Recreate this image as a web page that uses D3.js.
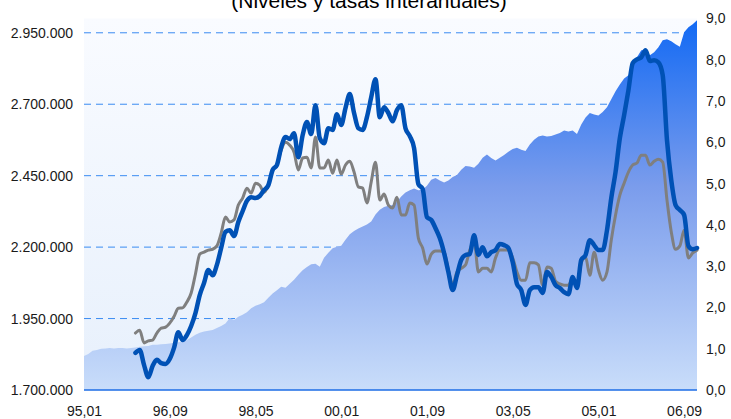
<!DOCTYPE html>
<html><head><meta charset="utf-8">
<script src="https://cdn.jsdelivr.net/npm/d3@7"></script>
<style>
html,body{margin:0;padding:0;background:#fff;}
svg{display:block;}
text{font-family:"Liberation Sans",Arial,sans-serif;}
</style></head>
<body><svg id="c" width="731" height="419"></svg>
<script>
// ---- data ----
const title = "(Niveles y tasas interanuales)";
const startYear = 1995, nMonths = 144;            // 95,01 ... 06,12
const months = [];
for (let k = 0; k < nMonths; k++) {
  const y = startYear + Math.floor(k / 12), m = k % 12 + 1;
  months.push(String(y).slice(2) + "," + String(m).padStart(2, "0"));
}
const xTickLabels = ["95,01","96,09","98,05","00,01","01,09","03,05","05,01","06,09"];
const leftTicks = [1700, 1950, 2200, 2450, 2700, 2950];   // miles
const rightTicks = [0,1,2,3,4,5,6,7,8,9];

// Niveles (miles) — área, eje izquierdo
const levels = [
1819,1826,1837,1840,1844,1845,1847,1845,1847,1847,1845,1847,
1849,1851,1853,1854,1858,1858,1860,1861,1863,1865,1867,1870,
1875,1884,1893,1900,1905,1907,1910,1917,1924,1933,1952,1945,
1956,1963,1972,1986,1995,2000,2007,2023,2038,2049,2061,2058,
2072,2086,2103,2119,2130,2140,2142,2131,2163,2180,2196,2201,
2205,2226,2245,2256,2265,2272,2279,2290,2314,2331,2340,2345,
2347,2359,2377,2391,2399,2405,2399,2401,2415,2436,2442,2433,
2426,2433,2445,2452,2471,2484,2482,2478,2492,2513,2524,2512,
2503,2513,2522,2534,2543,2548,2541,2536,2559,2576,2587,2591,
2587,2589,2594,2599,2608,2605,2608,2596,2629,2654,2669,2664,
2661,2673,2689,2717,2745,2769,2790,2801,2832,2864,2889,2889,
2871,2882,2899,2924,2927,2920,2910,2901,2952,2969,2980,2994];

// Tasas interanuales (%) — eje derecho, desde 96,01
const ratesStart = 12;
const rateBlue = [
0.90,0.97,0.61,0.31,0.58,0.73,0.65,0.63,0.75,1.02,1.40,1.21,
1.33,1.55,1.86,2.30,2.59,2.91,2.78,3.03,3.44,3.83,3.87,3.73,
4.07,4.33,4.58,4.67,4.65,4.70,4.84,4.96,5.33,5.45,5.88,6.13,
6.08,6.22,5.64,6.17,6.49,6.20,6.90,6.10,5.98,6.34,6.30,6.68,
6.42,6.83,7.17,6.71,6.34,6.30,6.61,7.09,7.53,6.61,6.85,6.71,
6.51,6.78,6.90,6.34,6.15,5.86,4.99,4.87,4.19,4.12,3.92,3.68,
3.32,2.86,2.42,2.78,3.15,3.27,3.29,3.75,3.27,3.46,3.24,3.34,
3.39,3.54,3.51,3.44,3.10,2.57,2.42,2.06,2.42,2.49,2.49,2.35,
2.86,2.74,2.54,2.47,2.37,2.32,2.74,2.47,3.15,3.27,3.63,3.51,
3.39,3.39,3.87,4.65,5.28,6.10,6.66,7.26,7.92,8.01,8.06,8.23,
7.97,7.99,7.94,7.63,6.05,5.08,4.48,4.36,4.24,3.49,3.41,3.44];
const rateGray = [
1.38,1.45,1.14,1.19,1.21,1.38,1.50,1.52,1.62,1.78,1.98,1.99,
2.13,2.35,2.81,3.29,3.34,3.39,3.41,3.49,3.80,4.19,4.07,4.12,
4.48,4.65,4.89,4.77,5.01,4.96,4.79,4.96,5.33,5.45,5.81,6.00,
5.93,5.76,5.33,5.62,5.64,5.38,6.13,5.38,5.38,5.57,5.25,5.57,
5.23,5.45,5.54,5.28,4.92,4.89,4.53,5.04,5.52,4.60,4.75,4.48,
4.41,4.67,4.24,4.24,4.53,4.48,3.68,3.44,3.05,3.29,3.37,3.37,
3.34,2.91,2.54,2.86,2.95,3.03,3.39,3.63,2.86,2.95,2.95,2.86,
3.20,3.39,3.39,3.39,3.20,2.86,2.66,2.66,3.08,3.08,3.03,2.54,
2.98,2.95,2.64,2.57,2.54,2.54,2.71,2.49,3.08,3.22,2.78,3.34,
2.91,2.66,2.86,3.63,4.24,4.72,5.01,5.28,5.45,5.50,5.69,5.69,
5.45,5.54,5.59,5.52,4.60,3.83,3.41,3.49,3.87,3.20,3.32,3.39];

// ---- chart ----
const L = 84, R = 697, T = 18.5, B = 390;
const svg = d3.select("#c");
const defs = svg.append("defs");

const bg = defs.append("linearGradient").attr("id","bg").attr("gradientUnits","userSpaceOnUse")
  .attr("x1",0).attr("x2",0).attr("y1",T).attr("y2",B);
bg.append("stop").attr("offset","0").attr("stop-color","#f9fbff");
bg.append("stop").attr("offset","1").attr("stop-color","#e7f0fc");

const ag = defs.append("linearGradient").attr("id","ag").attr("gradientUnits","userSpaceOnUse")
  .attr("x1",0).attr("x2",0).attr("y1",T).attr("y2",B);
ag.append("stop").attr("offset","0").attr("stop-color","#1169f4");
ag.append("stop").attr("offset","0.45").attr("stop-color","#7a9cec");
ag.append("stop").attr("offset","1").attr("stop-color","#c9ddfa");

const x = d3.scalePoint().domain(months).range([L, R]);
const yL = d3.scaleLinear().domain([1700, 3000]).range([B, T]);
const yR = d3.scaleLinear().domain([0, 9]).range([B, T]);

// title
svg.append("text").attr("x", 369).attr("y", 8).attr("text-anchor","middle")
  .attr("font-size", 21).attr("fill","#000").text(title);

// plot background
svg.append("rect").attr("x", L).attr("y", T).attr("width", R - L).attr("height", B - T)
  .attr("fill","url(#bg)");

// gridlines
svg.append("g").selectAll("line").data(leftTicks.filter(d => d > 1700)).join("line")
  .attr("x1", L).attr("x2", R).attr("y1", d => yL(d)).attr("y2", d => yL(d))
  .attr("stroke","#3a8bf2").attr("stroke-width",1).attr("stroke-dasharray","7,5");

// area
const area = d3.area().x((d,i) => x(months[i])).y0(B).y1(d => yL(d));
svg.append("path").datum(levels).attr("d", area).attr("fill","url(#ag)");

// baseline
svg.append("line").attr("x1", L).attr("x2", R).attr("y1", B).attr("y2", B)
  .attr("stroke","#1c6ce6").attr("stroke-width",1.5);

// lines
const line = d3.line().x((d,i) => x(months[i + ratesStart])).y(d => yR(d)).curve(d3.curveMonotoneX);
svg.append("path").datum(rateGray).attr("d", line).attr("fill","none")
  .attr("stroke","#7f7f7f").attr("stroke-width",3).attr("stroke-linejoin","round").attr("stroke-linecap","round");
svg.append("path").datum(rateBlue).attr("d", line).attr("fill","none")
  .attr("stroke","#0051b5").attr("stroke-width",4.5).attr("stroke-linejoin","round").attr("stroke-linecap","round");

// axes
const fmtLeft = d => d3.format(",")(d * 1000).replace(/,/g, ".");
const fmtRight = d => d.toFixed(1).replace(".", ",");

const gl = svg.append("g").attr("transform", `translate(${L},0)`)
  .call(d3.axisLeft(yL).tickValues(leftTicks).tickFormat(fmtLeft).tickSize(0).tickPadding(11));
const gr = svg.append("g").attr("transform", `translate(${R},0)`)
  .call(d3.axisRight(yR).tickValues(rightTicks).tickFormat(fmtRight).tickSize(0).tickPadding(9));
const gb = svg.append("g").attr("transform", `translate(0,${B})`)
  .call(d3.axisBottom(x).tickValues(xTickLabels).tickSize(0).tickPadding(16));
[gl, gr, gb].forEach(g => {
  g.select(".domain").remove();
  g.selectAll("text").attr("font-size", 14).attr("fill", "#1a1a1a")
    .attr("font-family", '"Liberation Sans", Arial, sans-serif');
});
</script></body></html>
